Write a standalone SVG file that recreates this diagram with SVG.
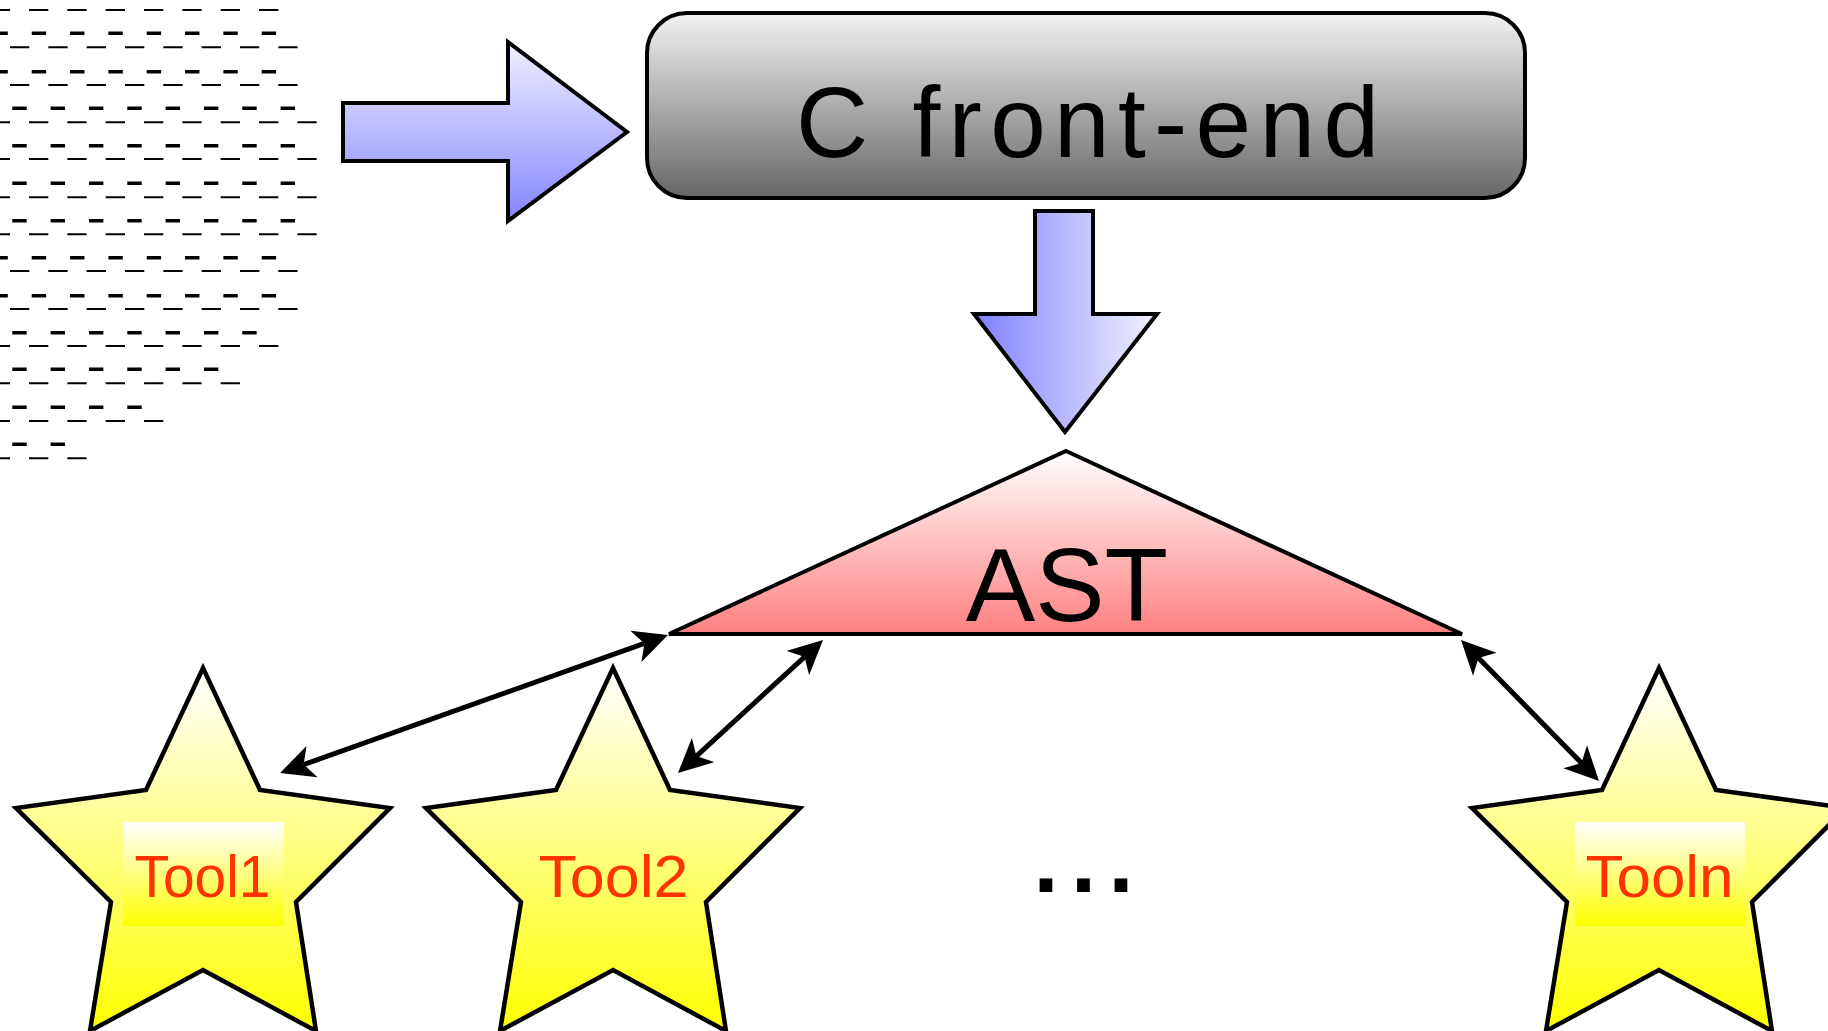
<svg xmlns="http://www.w3.org/2000/svg" width="1828" height="1031" viewBox="0 0 1828 1031">
<style>
.dk{fill:none;stroke:#000;stroke-width:3.5;stroke-dasharray:14.4 23.93}
.dt{fill:none;stroke:#000;stroke-width:2;stroke-dasharray:19.3 19.03}
.big{font-family:"Liberation Sans",Arial,sans-serif;fill:#000}
.tool{font-family:"Liberation Sans",Arial,sans-serif;font-size:60px;fill:#ff3300;text-anchor:middle}
.star{fill:url(#gStar);stroke:#000;stroke-width:4.5;stroke-linejoin:miter}
.conn{fill:none;stroke:#000;stroke-width:5;marker-start:url(#ah);marker-end:url(#ah)}
.blk{stroke:#000;stroke-width:4;stroke-linejoin:miter}
</style>
<defs>
<linearGradient id="gBox" x1="0" y1="0" x2="0" y2="1">
<stop offset="0" stop-color="#f2f2f2"/><stop offset="1" stop-color="#666666"/>
</linearGradient>
<linearGradient id="gRight" x1="0" y1="0" x2="0" y2="1">
<stop offset="0" stop-color="#f0f0ff"/><stop offset="1" stop-color="#8484ff"/>
</linearGradient>
<linearGradient id="gDown" x1="0" y1="0" x2="1" y2="0">
<stop offset="0" stop-color="#8080ff"/><stop offset="1" stop-color="#f2f2ff"/>
</linearGradient>
<linearGradient id="gAst" x1="0" y1="0" x2="0" y2="1">
<stop offset="0" stop-color="#ffffff"/><stop offset="1" stop-color="#ff8080"/>
</linearGradient>
<linearGradient id="gStar" gradientUnits="userSpaceOnUse" x1="0" y1="668" x2="0" y2="1031">
<stop offset="0" stop-color="#ffffff"/><stop offset="1" stop-color="#ffff00"/>
</linearGradient>
<linearGradient id="gLbl" x1="0" y1="0" x2="0" y2="1">
<stop offset="0" stop-color="#ffffff"/><stop offset="1" stop-color="#ffff00"/>
</linearGradient>
<marker id="ah" viewBox="0 -17 34 34" refX="9" refY="0" markerWidth="34" markerHeight="34" markerUnits="userSpaceOnUse" orient="auto-start-reverse">
<path d="M34,0 L0,-16.5 L9,0 L0,16.5 Z" fill="#000"/>
</marker>
<path id="starShape" d="M203,668 L260,790 L390,808 L296,902 L316,1031 L203,970 L90,1031 L111,902 L16,808 L146,790 Z"/>
</defs>

<g id="source-code">
<path class="dt" d="M-9.3,10H278.7"/>
<path class="dk" d="M-6.6,33.3H276.3"/>
<path class="dt" d="M10,47.3H298.3"/>
<path class="dk" d="M-6.6,71.7H276.3"/>
<path class="dt" d="M10,85H298.3"/>
<path class="dk" d="M12.3,108.3H295.7"/>
<path class="dt" d="M-9.3,122.3H317.3"/>
<path class="dk" d="M12.3,145.7H295.7"/>
<path class="dt" d="M-9.3,159H317.3"/>
<path class="dk" d="M12.3,183.3H295.7"/>
<path class="dt" d="M-9.3,197.3H317.3"/>
<path class="dk" d="M12.3,220.7H295.7"/>
<path class="dt" d="M-9.3,234.3H317.3"/>
<path class="dk" d="M-6.6,257.7H276.3"/>
<path class="dt" d="M10,271H298.3"/>
<path class="dk" d="M-6.6,295.7H276.3"/>
<path class="dt" d="M10,309H298.3"/>
<path class="dk" d="M12.3,332.7H257.3"/>
<path class="dt" d="M-9.3,346H278.7"/>
<path class="dk" d="M12.3,369.3H218.7"/>
<path class="dt" d="M-9.3,383.3H240.3"/>
<path class="dk" d="M12.3,407.3H142"/>
<path class="dt" d="M-9.3,421H163.7"/>
<path class="dk" d="M12.3,444.3H65.3"/>
<path class="dt" d="M-9.3,458.3H87"/>
</g>

<g id="c-front-end">
<rect x="647" y="13" width="878" height="185" rx="40" ry="40" fill="url(#gBox)" stroke="#000" stroke-width="4"/>
<text class="big" x="796" y="157" font-size="100" textLength="583" lengthAdjust="spacing">C front-end</text>
</g>

<g id="ast">
<polygon points="1066,451 1462,634 669,634" fill="url(#gAst)" stroke="#000" stroke-width="4" stroke-linejoin="miter"/>
<text class="big" x="1067" y="621" font-size="104" text-anchor="middle">AST</text>
</g>

<g id="tool1">
<use href="#starShape" class="star"/>
<rect x="123" y="822" width="161" height="104" fill="url(#gLbl)"/>
<text class="tool" x="202.5" y="897" textLength="136" lengthAdjust="spacingAndGlyphs">Tool1</text>
</g>

<g id="tool2">
<use href="#starShape" class="star" transform="translate(410,0)"/>
<text class="tool" x="613.5" y="897" textLength="150" lengthAdjust="spacingAndGlyphs">Tool2</text>
</g>

<g id="ellipsis">
<text class="big" x="1046 1083.5 1121" y="892" font-size="90" font-weight="bold" text-anchor="middle">...</text>
</g>

<g id="tooln">
<use href="#starShape" class="star" transform="translate(1456,0)"/>
<rect x="1575" y="822" width="170" height="104" fill="url(#gLbl)"/>
<text class="tool" x="1659.5" y="897" textLength="148" lengthAdjust="spacingAndGlyphs">Tooln</text>
</g>

<g id="connectors">
<polygon class="blk" fill="url(#gRight)" points="343,103 508,103 508,42 627,132 508,221 508,161 343,161"/>
<polygon class="blk" fill="url(#gDown)" points="1035,211 1093,211 1093,314 1157,314 1065,432 974,314 1035,314"/>
<path class="conn" d="M644.4,643.4L303.6,764.6"/>
<path class="conn" d="M804.6,656.9L696.4,756.1"/>
<path class="conn" d="M1478.5,657.9L1581.5,763.1"/>
</g>
</svg>
